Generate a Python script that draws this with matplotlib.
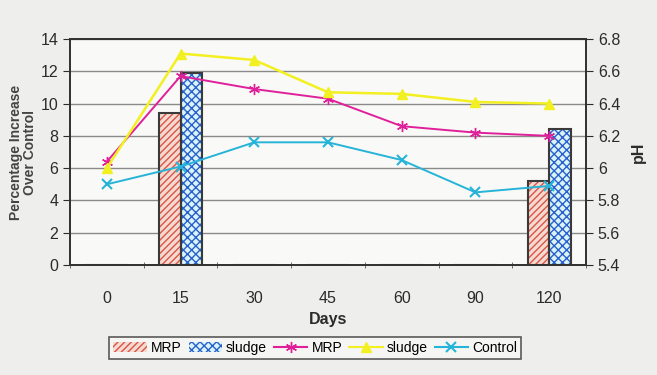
import numpy as np
import matplotlib.pyplot as plt
from matplotlib.patches import Patch
from matplotlib.lines import Line2D

plt.rcParams['font.family'] = ['Liberation Sans', 'DejaVu Sans']

days = ["0", "15", "30", "45", "60", "90", "120"]

# bars: percentage increase over control (left axis)
bar_mrp = [0, 9.4, 0, 0, 0, 0, 5.2]
bar_sludge = [0, 11.9, 0, 0, 0, 0, 8.4]

# lines: pH (right axis)
ph_mrp = [6.04, 6.57, 6.49, 6.43, 6.26, 6.22, 6.20]
ph_sludge = [6.00, 6.71, 6.67, 6.47, 6.46, 6.41, 6.40]
ph_control = [5.90, 6.01, 6.16, 6.16, 6.05, 5.85, 5.89]

txt = '#2b2b2b'
fig = plt.figure(figsize=(6.57, 3.75), dpi=100, facecolor='#eeeeec')
ax = fig.add_axes([0.1065, 0.2933, 0.7855, 0.6027], facecolor='#f9f9f7')
ax2 = ax.twinx()

x = np.arange(len(days))
w = 0.29

# MRP bars: red diagonal hatch
ax.bar(x - w / 2, bar_mrp, w, color='#f6d9cf', hatch='/////', edgecolor='#d9554a', linewidth=0, zorder=2)
ax.bar(x - w / 2, bar_mrp, w, fill=False, edgecolor='#3a3a3a', linewidth=1.5, zorder=3)
# sludge bars: blue checker
ax.bar(x + w / 2, bar_sludge, w, color='#d8f4f4', hatch='xxxx', edgecolor='#2a5fd0', linewidth=0, zorder=2)
ax.bar(x + w / 2, bar_sludge, w, fill=False, edgecolor='#3a3a3a', linewidth=1.5, zorder=3)

ax.set_ylim(0, 14)
ax.set_yticks(range(0, 15, 2))
ax.set_xlim(-0.5, len(days) - 0.5)
ax.set_xticks(x)
ax.set_xticklabels(days)
ax.set_xticks(np.arange(-0.5, len(days), 1), minor=True)
ax.tick_params(axis='x', which='major', length=0, pad=19, labelsize=11.5, colors=txt)
ax.tick_params(axis='x', which='minor', length=5, direction='inout', color='#555555')
ax.tick_params(axis='y', length=5, labelsize=11.5, colors=txt)
ax.grid(axis='y', color='#8a8a8a', linewidth=1, zorder=0)
ax.set_axisbelow(True)

ax2.plot(x, ph_mrp, color='#e0209a', marker=(6, 2, 0), markersize=8, linewidth=1.4, zorder=4)
ax2.plot(x, ph_sludge, color='#f2f020', marker='^', markersize=7, linewidth=1.8, zorder=4)
ax2.plot(x, ph_control, color='#26b4d8', marker='x', markersize=7, markeredgewidth=1.5, linewidth=1.4, zorder=4)
ax2.set_ylim(5.4, 6.8)
ax2.set_yticks([5.4, 5.6, 5.8, 6.0, 6.2, 6.4, 6.6, 6.8])
ax2.set_yticklabels(['5.4', '5.6', '5.8', '6', '6.2', '6.4', '6.6', '6.8'])
ax2.tick_params(axis='y', length=5, labelsize=11.5, colors=txt)

for a in (ax, ax2):
    for s in a.spines.values():
        s.set_color('#333333')
        s.set_linewidth(1.3)

ax.set_ylabel("Percentage Increase\nOver Control", fontsize=10, fontweight='bold', color='#444444', linespacing=1.0)
ax.yaxis.set_label_coords(-0.064, 0.5)
ax2.set_ylabel("pH", fontsize=11.5, fontweight='bold', color=txt, labelpad=8)
ax.set_xlabel("Days", fontsize=11.5, fontweight='bold', color=txt, labelpad=4)

handles = [
    Patch(facecolor='#f6d9cf', hatch='/////', edgecolor='#d9554a', linewidth=0),
    Patch(facecolor='#d8f4f4', hatch='xxxx', edgecolor='#2a5fd0', linewidth=0),
    Line2D([], [], color='#e0209a', marker=(6, 2, 0), markersize=8),
    Line2D([], [], color='#f2f020', marker='^', markersize=7),
    Line2D([], [], color='#26b4d8', marker='x', markersize=7, markeredgewidth=1.5),
]
labels = ["MRP", "sludge", "MRP", "sludge", "Control"]
leg = fig.legend(handles, labels, loc='center', bbox_to_anchor=(0.48, 0.072), ncol=5,
                 frameon=True, fancybox=False, fontsize=10, handlelength=2.4,
                 handletextpad=0.3, columnspacing=0.5, borderpad=0.3)
leg.get_frame().set_edgecolor('#333333')
leg.get_frame().set_facecolor('#f7f7f5')
leg.get_frame().set_linewidth(1.2)

fig.savefig("out.png", dpi=100, facecolor=fig.get_facecolor())
